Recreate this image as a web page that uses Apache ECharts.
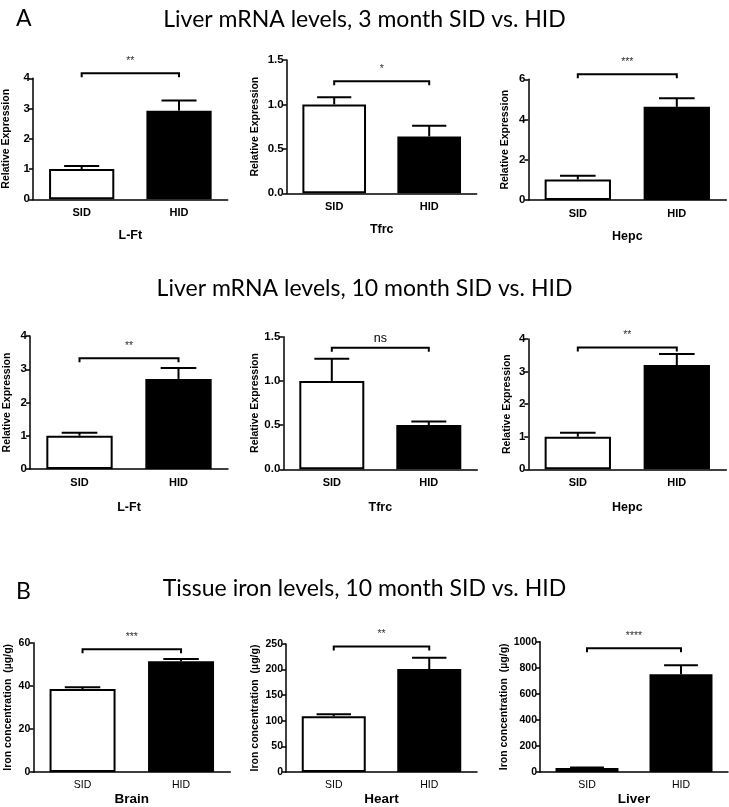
<!DOCTYPE html>
<html><head><meta charset="utf-8">
<script src="https://cdn.jsdelivr.net/npm/echarts@6/dist/echarts.min.js"></script>
<style>html,body{margin:0;padding:0;background:#fff}#c{width:729px;height:807px}</style>
</head><body><div id="c"></div>
<script>
// ---------------- data ----------------
const categories = ['SID', 'HID'];
const sectionTitles = ['Liver mRNA levels, 3 month SID vs. HID', 'Liver mRNA levels, 10 month SID vs. HID', 'Tissue iron levels, 10 month SID vs. HID'];
const sectionLetters = ['A', 'B'];
const panelNames = ['L-Ft', 'Tfrc', 'Hepc', 'L-Ft', 'Tfrc', 'Hepc', 'Brain', 'Heart', 'Liver'];
const yNames = ['Relative Expression', 'Relative Expression', 'Relative Expression',
  'Relative Expression', 'Relative Expression', 'Relative Expression',
  'Iron concentration  (\u00b5g/g)', 'Iron concentration  (\u00b5g/g)', 'Iron concentration  (\u00b5g/g)'];
const sidMeans = [1.0, 1.0, 1.02, 1.0, 1.0, 1.0, 38.5, 109, 30];
const hidMeans = [2.93, 0.64, 4.63, 2.71, 0.50, 3.2, 51.4, 201, 750];
const sidSem = [0.10, 0.08, 0.18, 0.09, 0.25, 0.12, 0.8, 4, 5];
const hidSem = [0.34, 0.12, 0.43, 0.33, 0.04, 0.34, 1.0, 22, 70];
const yMax = [4, 1.5, 6, 4, 1.5, 4, 60, 250, 1000];
const yStep = [1, 0.5, 2, 1, 0.5, 1, 20, 50, 200];
const yDecimals = [0, 1, 0, 0, 1, 0, 0, 0, 0];
const bracketLevel = [4.17, 1.26, 6.25, 3.33, 1.375, 3.74, 57, 245, 950];
const sigLabels = ['**', '*', '***', '**', 'ns', '**', '***', '**', '****'];

// ---------------- layout / style ----------------
const FONT = 'Liberation Sans, Arial, sans-serif';
const grids = [
  {left: 31.7, top: 78.3, width: 196, height: 121},
  {left: 286.7, top: 60, width: 190, height: 133.3},
  {left: 528.3, top: 79.3, width: 198, height: 120.7},
  {left: 30, top: 336, width: 198, height: 133},
  {left: 283.3, top: 336.7, width: 194, height: 132.6},
  {left: 528.3, top: 339, width: 198, height: 130.3},
  {left: 33.3, top: 642.7, width: 197, height: 132.3},
  {left: 286, top: 644, width: 191, height: 130},
  {left: 540, top: 641.7, width: 188, height: 133.3}
];
const yNameGap = [21, 26, 18, 17, 21, 16, 20, 25, 29];
const barFill = ['#ffffff', '#000000'];

const xAxes = [], yAxes = [], series = [];
for (let i = 0; i < 9; i++) {
  const row3 = i >= 6;
  xAxes.push({
    type: 'category', gridIndex: i, data: categories,
    name: panelNames[i], nameLocation: 'middle', nameGap: row3 ? 20 : (i < 3 ? 30 : 32),
    nameTextStyle: {fontFamily: FONT, fontWeight: 'bold', fontSize: row3 ? 13.5 : 12.5, color: '#000'},
    axisLine: {lineStyle: {color: '#000', width: 1.5}},
    axisTick: {alignWithLabel: true, length: 4, lineStyle: {color: '#000', width: 1.5}},
    axisLabel: {fontFamily: FONT, fontWeight: row3 ? 'normal' : 'bold', fontSize: row3 ? 10.5 : 11, color: '#000', margin: row3 ? 8 : 8}
  });
  yAxes.push({
    type: 'value', gridIndex: i, min: 0, max: yMax[i], interval: yStep[i],
    name: yNames[i], nameLocation: 'middle', nameRotate: 90, nameGap: yNameGap[i],
    nameTextStyle: {fontFamily: FONT, fontWeight: 'bold', fontSize: row3 ? 10.5 : 10.5, color: '#000'},
    axisLine: {show: true, lineStyle: {color: '#000', width: 1.5}},
    axisTick: {show: true, length: 4, lineStyle: {color: '#000', width: 1.5}},
    splitLine: {show: false},
    axisLabel: {fontFamily: FONT, fontWeight: 'bold', fontSize: row3 ? 10.5 : 11.5, color: '#000', margin: 3,
      formatter: v => v.toFixed(yDecimals[i])}
  });
  const means = [sidMeans[i], hidMeans[i]];
  const sems = [sidSem[i], hidSem[i]];
  series.push({
    type: 'bar', xAxisIndex: i, yAxisIndex: i, barCategoryGap: '33%',
    data: means.map((m, k) => ({value: m, itemStyle: {color: barFill[k], borderColor: '#000', borderWidth: 2}})),
    animation: false
  });
  series.push({
    type: 'custom', xAxisIndex: i, yAxisIndex: i, clip: false, animation: false, z: 3,
    data: means.map((m, k) => [k, m, m + sems[k]]),
    renderItem: (params, api) => {
      const base = api.coord([api.value(0), api.value(1)]);
      const top = api.coord([api.value(0), api.value(2)]);
      const half = api.size([1, 0])[0] * 0.18;
      return {type: 'group', children: [
        {type: 'line', shape: {x1: base[0], y1: base[1], x2: top[0], y2: top[1]}, style: {stroke: '#000', lineWidth: 2}},
        {type: 'line', shape: {x1: top[0] - half, y1: top[1], x2: top[0] + half, y2: top[1]}, style: {stroke: '#000', lineWidth: 2}}
      ]};
    }
  });
  series.push({
    type: 'custom', xAxisIndex: i, yAxisIndex: i, clip: false, animation: false, z: 4,
    data: [[0, 1, bracketLevel[i]]],
    renderItem: (params, api) => {
      const a = api.coord([api.value(0), api.value(2)]);
      const b = api.coord([api.value(1), api.value(2)]);
      const isNs = sigLabels[i] === 'ns';
      return {type: 'group', children: [
        {type: 'polyline', shape: {points: [[a[0], a[1] + 4], [a[0], a[1]], [b[0], b[1]], [b[0], b[1] + 4]]},
          style: {stroke: '#000', lineWidth: 2, fill: null}},
        {type: 'text', style: {x: (a[0] + b[0]) / 2, y: a[1] - (isNs ? 9 : 12), text: sigLabels[i],
          textAlign: 'center', textVerticalAlign: 'middle', fontFamily: FONT,
          fontSize: isNs ? 12.5 : 10.5, fill: isNs ? '#000' : '#333'}}
      ]};
    }
  });
}

const titleFont = 'Lato, "Open Sans", sans-serif';
const titles = [
  {text: sectionTitles[0], left: 'center', top: 3},
  {text: sectionTitles[1], left: 'center', top: 272},
  {text: sectionTitles[2], left: 'center', top: 572},
  {text: sectionLetters[0], left: 11, top: 2},
  {text: sectionLetters[1], left: 11, top: 575}
].map(t => Object.assign(t, {textStyle: {fontFamily: titleFont, fontWeight: 'normal', fontSize: 23, color: '#000'}}));

const chart = echarts.init(document.getElementById('c'), null, {renderer: 'canvas'});
chart.setOption({
  backgroundColor: '#fff',
  animation: false,
  title: titles,
  grid: grids,
  xAxis: xAxes,
  yAxis: yAxes,
  series: series
});
</script></body></html>
